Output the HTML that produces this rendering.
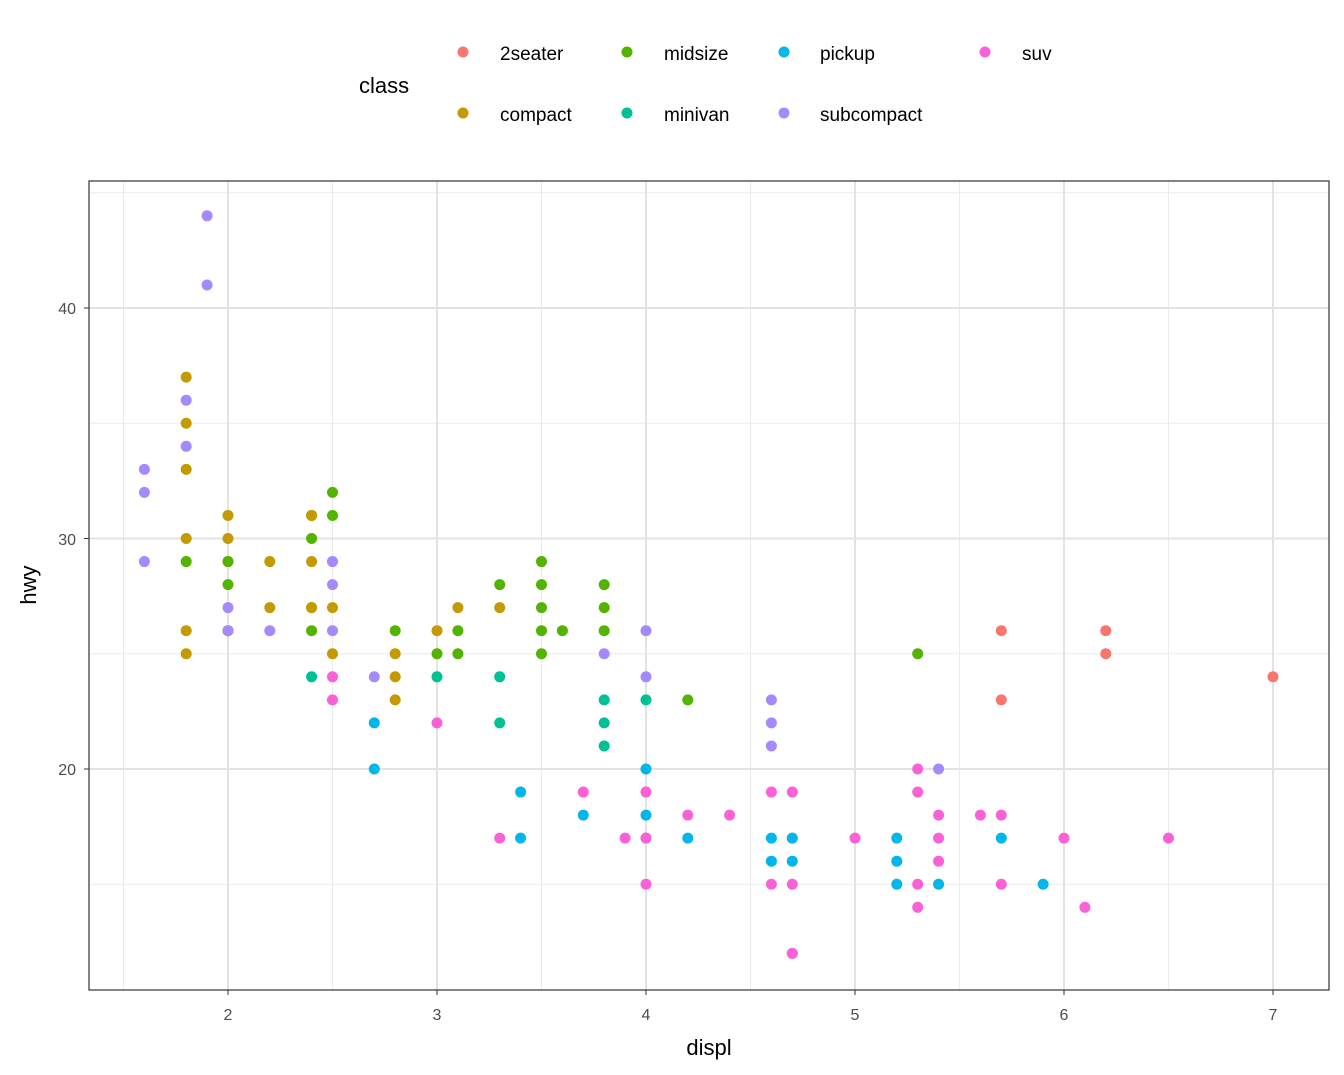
<!DOCTYPE html>
<html><head><meta charset="utf-8"><style>body{margin:0;background:#fff}svg{display:block;font-family:"Liberation Sans",sans-serif}</style></head>
<body>
<svg id="s" width="1344" height="1075" xmlns="http://www.w3.org/2000/svg">
<rect width="1344" height="1075" fill="#fff"/>
<g id="grid"></g>
<g id="pts"></g>
<rect x="89" y="181" width="1240" height="809" fill="none" stroke="#333" stroke-width="1.2"/>
<g font-size="16" fill="#4d4d4d" text-anchor="middle" id="xt"></g>
<g font-size="16" fill="#4d4d4d" text-anchor="end">
<text x="76" y="314">40</text><text x="76" y="545">30</text><text x="76" y="775">20</text>
</g>
<text x="709" y="1055" font-size="22" text-anchor="middle">displ</text>
<text transform="translate(36,585) rotate(-90)" font-size="22" text-anchor="middle">hwy</text>
<text x="359" y="93" font-size="22">class</text>
<g font-size="19">
<circle cx="463" cy="52" r="5.5" fill="#F8766D"/><text x="500" y="60">2seater</text>
<circle cx="627" cy="52" r="5.5" fill="#53B400"/><text x="664" y="60">midsize</text>
<circle cx="784" cy="52" r="5.5" fill="#00B6EB"/><text x="820" y="60">pickup</text>
<circle cx="985" cy="52" r="5.5" fill="#FB61D7"/><text x="1022" y="60">suv</text>
<circle cx="463" cy="113" r="5.5" fill="#C49A00"/><text x="500" y="121">compact</text>
<circle cx="627" cy="113" r="5.5" fill="#00C094"/><text x="664" y="121">minivan</text>
<circle cx="784" cy="113" r="5.5" fill="#A58AFF"/><text x="820" y="121">subcompact</text>
</g>
</svg>
<script>
var X=d=>228+(d-2)*209, Y=h=>769-(h-20)*23.05;
var NS="http://www.w3.org/2000/svg";
function el(p,t,a){var e=document.createElementNS(NS,t);for(var k in a)e.setAttribute(k,a[k]);p.appendChild(e);return e;}
var g=document.getElementById("grid");
[1.5,2.5,3.5,4.5,5.5,6.5].forEach(d=>el(g,"line",{x1:X(d),x2:X(d),y1:181,y2:990,stroke:"#ebebeb","stroke-width":1}));
[15,25,35,45].forEach(h=>el(g,"line",{x1:89,x2:1329,y1:Y(h),y2:Y(h),stroke:"#ebebeb","stroke-width":1}));
[2,3,4,5,6,7].forEach(d=>el(g,"line",{x1:X(d),x2:X(d),y1:181,y2:990,stroke:"#e3e3e3","stroke-width":2}));
[20,30,40].forEach(h=>el(g,"line",{x1:89,x2:1329,y1:Y(h),y2:Y(h),stroke:"#e3e3e3","stroke-width":2}));
var xt=document.getElementById("xt");
[2,3,4,5,6,7].forEach(d=>{el(xt,"line",{x1:X(d),x2:X(d),y1:990,y2:995,stroke:"#333"});var t=el(xt,"text",{x:X(d),y:1020});t.textContent=d;});
[20,30,40].forEach(h=>el(xt,"line",{x1:84,x2:89,y1:Y(h),y2:Y(h),stroke:"#333"}));
var C={t:"#F8766D",c:"#C49A00",m:"#53B400",v:"#00C094",p:"#00B6EB",s:"#A58AFF",u:"#FB61D7"};
var D=[
[1.6,"s",[33,32,29]],[1.8,"c",[37,35,33,30,26,25]],[1.8,"s",[36,34]],[1.8,"m",[29]],
[1.9,"s",[44,41]],[2.0,"c",[31,30,29,26]],[2.0,"m",[29,28,26]],[2.0,"s",[27,26]],
[2.2,"c",[29,27]],[2.2,"s",[26]],[2.4,"m",[31,30,27,26]],[2.4,"c",[31,29,27]],[2.4,"v",[24]],
[2.5,"m",[32,31]],[2.5,"s",[29,28,26]],[2.5,"c",[27,25]],[2.5,"u",[24,23]],
[2.7,"s",[24]],[2.7,"p",[22,20]],[2.8,"m",[26]],[2.8,"c",[25,24,23]],
[3.0,"m",[25]],[3.0,"c",[26]],[3.0,"v",[24]],[3.0,"u",[22]],[3.1,"m",[26,25]],[3.1,"c",[27]],
[3.3,"m",[28]],[3.3,"c",[27]],[3.3,"v",[24,22]],[3.3,"u",[17]],[3.4,"p",[19,17]],
[3.5,"m",[29,28,27,26,25]],[3.6,"m",[26]],[3.7,"u",[19]],[3.7,"p",[18]],
[3.8,"m",[28,27,26]],[3.8,"s",[25]],[3.8,"v",[23,22,21]],[3.9,"u",[17]],
[4.0,"s",[26,24]],[4.0,"v",[23]],[4.0,"p",[20,18,17]],[4.0,"u",[19,17,15]],
[4.2,"m",[23]],[4.2,"p",[17]],[4.2,"u",[18]],[4.4,"u",[18]],
[4.6,"s",[23,22,21]],[4.6,"p",[17,16]],[4.6,"u",[19,15]],
[4.7,"p",[12]],[4.7,"u",[19,17,15,12]],[4.7,"p",[17,16]],[5.0,"u",[17]],[5.2,"p",[17,16,15]],
[5.3,"m",[25]],[5.3,"u",[20,19,15,14]],[5.4,"s",[20]],[5.4,"u",[18,17,16]],[5.4,"p",[15]],
[5.6,"u",[18]],[5.7,"t",[26,23]],[5.7,"u",[18,15]],[5.7,"p",[17]],[5.9,"p",[15]],
[6.0,"u",[17]],[6.1,"u",[14]],[6.2,"t",[26,25]],[6.5,"u",[17]],[7.0,"t",[24]]];
var P=document.getElementById("pts");
D.forEach(r=>r[2].forEach(h=>el(P,"circle",{cx:X(r[0]),cy:Y(h),r:5.5,fill:C[r[1]]})));
</script>
</body></html>
